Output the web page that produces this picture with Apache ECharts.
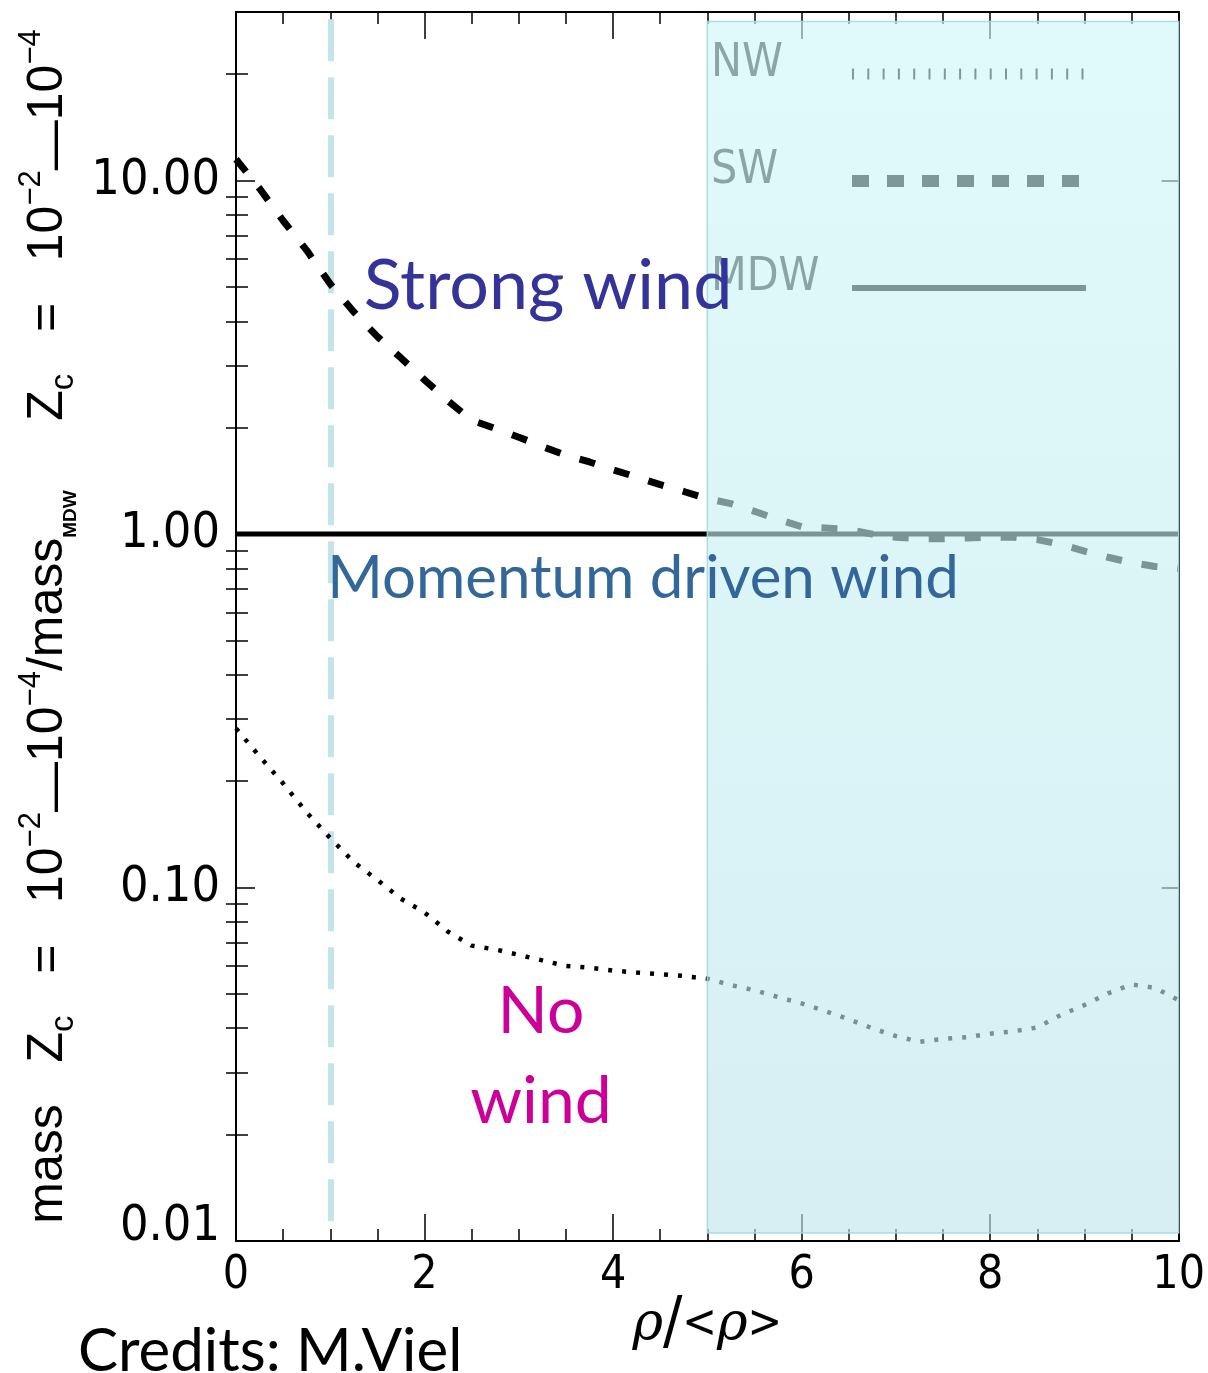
<!DOCTYPE html>
<html>
<head>
<meta charset="utf-8">
<script src="https://cdn.jsdelivr.net/npm/echarts@6/dist/echarts.min.js"></script>
<style>
html,body{margin:0;padding:0;background:#fff;}
#c{width:1208px;height:1373px;}
</style>
</head>
<body>
<div id="c"></div>
<script>
// ---------- data ----------
const rho = [0,0.25,0.5,0.75,1,1.25,1.5,1.75,2,2.25,2.5,2.75,3,3.25,3.5,3.75,4,4.25,4.5,4.75,5,
             5.25,5.5,5.75,6,6.25,6.5,6.75,7,7.25,7.5,7.75,8,8.25,8.5,8.75,9,9.25,9.5,9.75,10];
const nwValues = [0.282,0.235,0.197,0.163,0.138,0.118,0.105,0.093,0.085,0.075,0.0685,0.0668,0.0645,0.0622,0.06,0.0593,0.0582,0.0575,0.0569,0.0562,0.0552,
                  0.053,0.0512,0.049,0.047,0.0447,0.0424,0.04,0.038,0.0366,0.0373,0.0377,0.0386,0.0392,0.0402,0.0436,0.0465,0.0502,0.0532,0.052,0.048];
const swValues = [11.5,9.5,7.7,6.35,5.1,4.25,3.62,3.15,2.73,2.38,2.1,1.99,1.88,1.77,1.67,1.6,1.52,1.45,1.38,1.32,1.26,
                  1.22,1.16,1.1,1.05,1.04,1.03,1.0,0.98,0.97,0.97,0.975,0.98,0.98,0.965,0.935,0.895,0.86,0.83,0.81,0.8];
const mdwRho = [0, 10];
const mdwValues = [1.0, 1.0];

const seriesNames = ['NW', 'SW', 'MDW'];
const yMajorTicks = [0.01, 0.1, 1, 10];
const yTickLabels = ['0.01', '0.10', '1.00', '10.00'];
const yMinorTicks = [0.02,0.03,0.04,0.05,0.06,0.07,0.08,0.09,0.2,0.3,0.4,0.5,0.6,0.7,0.8,0.9,2,3,4,5,6,7,8,9,20];
const xTickLabels = ['0','2','4','6','8','10'];

// annotation extents (data space)
const windZoneRho = [5, 10];
const windZoneVal = [28.2, 0.01054];
const refRho = 1;
const refLineVal = [28.6, 0.0105];

// ---------- chart ----------
const TICK_FONT = '"Liberation Sans Narrow","DejaVu Sans Condensed","Liberation Sans",sans-serif';
const TITLE_FONT = '"Liberation Sans","DejaVu Sans",sans-serif';
const ANN_FONT = 'Lato,"Open Sans",sans-serif';

const pairs = (xs, ys) => xs.map((x, i) => [x, ys[i]]);
const chart = echarts.init(document.getElementById('c'), null, {renderer: 'canvas', width: 1208, height: 1373});

const axisLine = {show: true, onZero: false, lineStyle: {color: '#000', width: 2}};
const tickStyle = {color: '#000', width: 1.5};

function yLabel(v) {
  const i = yMajorTicks.findIndex(t => Math.abs(Math.log10(t) - Math.log10(v)) < 1e-6);
  if (i < 0) return '';
  return i === 0 ? '{low|' + yTickLabels[i] + '}' : '{n|' + yTickLabels[i] + '}';
}
function xLabel(v) {
  const i = Math.round(v / 2);
  return xTickLabels[i] !== undefined ? xTickLabels[i] : '';
}

const yLabelRich = {
  n: {fontSize: 50, fontFamily: TICK_FONT, color: '#000'},
  low: {fontSize: 50, fontFamily: TICK_FONT, color: '#000', padding: [0, 0, 28, 0]}
};

const yName = '{t|mass   Z}{sub|c}{t|   =   10}{sup|−2}{dash|—}{t|10}{sup|−4}{t|/mass}{sub2|MDW}{t|     Z}{sub|c}{t|   =   10}{sup|−2}{dash|—}{t|10}{sup|−4}';

const option = {
  animation: false,
  backgroundColor: '#fff',
  grid: {left: 236, top: 12, width: 945, height: 1229, containLabel: false},
  legend: {
    show: true,
    orient: 'vertical',
    left: 711,
    top: 41,
    align: 'right',
    padding: 0,
    itemWidth: 234,
    itemHeight: 12,
    itemGap: 41,
    selectedMode: false,
    formatter: name => '{t|' + name + '}',
    textStyle: {
      color: '#222',
      rich: {t: {width: 136, align: 'left', fontSize: 46, lineHeight: 56, fontFamily: TICK_FONT, color: '#222', padding: [0, 0, 20, 0]}}
    },
    data: [
      {name: seriesNames[0], lineStyle: {color: '#000', width: 11, type: [2, 13.3], cap: 'butt'}, itemStyle: {opacity: 0}},
      {name: seriesNames[1], lineStyle: {color: '#000', width: 12, type: [17, 18], cap: 'butt'}, itemStyle: {opacity: 0}},
      {name: seriesNames[2], lineStyle: {color: '#000', width: 6, type: 'solid'}, itemStyle: {opacity: 0}}
    ]
  },
  xAxis: [
    {
      type: 'value', min: 0, max: 10, interval: 2, position: 'bottom',
      axisLine: axisLine,
      axisTick: {show: true, inside: true, length: 27, lineStyle: tickStyle},
      minorTick: {show: true, splitNumber: 4, length: 12, lineStyle: tickStyle},
      splitLine: {show: false}, minorSplitLine: {show: false},
      axisLabel: {show: true, margin: 12, fontSize: 46, fontFamily: TICK_FONT, color: '#000', formatter: xLabel},
      name: '{i|ρ}{s|/}{a|<}{i|ρ}{a|>}',
      nameLocation: 'middle',
      nameGap: 52,
      nameMoveOverlap: false,
      nameTextStyle: {
        color: '#000', fontSize: 48, fontFamily: TITLE_FONT,
        rich: {
          i: {fontSize: 52, fontStyle: 'italic', fontFamily: '"DejaVu Serif",serif', color: '#000'},
          s: {fontSize: 64, fontFamily: '"DejaVu Sans Condensed","Liberation Sans",sans-serif', color: '#000'},
          a: {fontSize: 46, fontFamily: '"DejaVu Sans Condensed","Liberation Sans",sans-serif', color: '#000'}
        }
      }
    },
    {
      type: 'value', min: 0, max: 10, interval: 2, position: 'top',
      axisLine: axisLine,
      axisTick: {show: true, inside: true, length: 27, lineStyle: tickStyle},
      minorTick: {show: true, splitNumber: 4, length: 12, lineStyle: tickStyle},
      splitLine: {show: false}, axisLabel: {show: false}
    }
  ],
  yAxis: [
    {
      type: 'log', logBase: 10, min: 0.01, max: 30, position: 'left',
      axisLine: axisLine,
      axisTick: {show: true, inside: true, length: 19, lineStyle: tickStyle, customValues: yMajorTicks},
      minorTick: {show: false},
      splitLine: {show: false},
      axisLabel: {show: true, margin: 16, customValues: yMajorTicks, formatter: yLabel, rich: yLabelRich,
                  fontSize: 50, fontFamily: TICK_FONT, color: '#000'},
      name: yName,
      nameLocation: 'middle',
      nameRotate: 90,
      nameGap: 146,
      nameTextStyle: {
        color: '#000', fontSize: 50, fontFamily: TITLE_FONT,
        rich: {
          t: {fontSize: 50, lineHeight: 64, fontFamily: TITLE_FONT, color: '#000'},
          sup: {fontSize: 31, lineHeight: 44, verticalAlign: 'top', fontFamily: TITLE_FONT, color: '#000'},
          sub: {fontSize: 33, lineHeight: 32, verticalAlign: 'bottom', fontFamily: TITLE_FONT, color: '#000'},
          sub2: {fontSize: 19, lineHeight: 24, verticalAlign: 'bottom', fontWeight: 'bold', fontFamily: TITLE_FONT, color: '#000'},
          dash: {fontSize: 50, lineHeight: 22, verticalAlign: 'bottom', fontFamily: TITLE_FONT, color: '#000'}
        }
      }
    },
    {
      type: 'log', logBase: 10, min: 0.01, max: 30, position: 'left',
      axisLine: {show: false},
      axisTick: {show: true, inside: true, length: 12, lineStyle: tickStyle, customValues: yMinorTicks},
      splitLine: {show: false}, axisLabel: {show: false}
    },
    {
      type: 'log', logBase: 10, min: 0.01, max: 30, position: 'right',
      axisLine: axisLine,
      axisTick: {show: true, inside: true, length: 17, lineStyle: tickStyle, customValues: yMajorTicks},
      splitLine: {show: false}, axisLabel: {show: false}
    },
    {
      type: 'log', logBase: 10, min: 0.01, max: 30, position: 'right',
      axisLine: {show: false},
      axisTick: {show: true, inside: true, length: 10, lineStyle: tickStyle, customValues: yMinorTicks},
      splitLine: {show: false}, axisLabel: {show: false}
    }
  ],
  series: [
    {
      name: seriesNames[0], type: 'line', xAxisIndex: 0, yAxisIndex: 0, z: 2,
      data: pairs(rho, nwValues), symbol: 'none', showSymbol: false,
      lineStyle: {color: '#000', width: 4.5, type: [4, 10], cap: 'butt'}
    },
    {
      name: seriesNames[1], type: 'line', xAxisIndex: 0, yAxisIndex: 0, z: 2,
      data: pairs(rho, swValues), symbol: 'none', showSymbol: false,
      lineStyle: {color: '#000', width: 7, type: [16, 20], cap: 'butt'}
    },
    {
      name: seriesNames[2], type: 'line', xAxisIndex: 0, yAxisIndex: 0, z: 2,
      data: pairs(mdwRho, mdwValues), symbol: 'none', showSymbol: false,
      lineStyle: {color: '#000', width: 5, type: 'solid'}
    },
    {
      name: 'refLine', type: 'line', xAxisIndex: 0, yAxisIndex: 0, z: 1, data: [],
      markLine: {
        z: 1, silent: true, symbol: ['none', 'none'], label: {show: false},
        lineStyle: {color: '#c3e5e9', width: 6, type: [42, 16], cap: 'butt'},
        emphasis: {disabled: true},
        data: [[{coord: [refRho, refLineVal[0]]}, {coord: [refRho, refLineVal[1]]}]]
      }
    },
    {
      name: 'windZone', type: 'line', xAxisIndex: 0, yAxisIndex: 0, z: 10, data: [],
      markArea: {
        z: 10, silent: true,
        itemStyle: {
          color: {type: 'linear', x: 0, y: 0, x2: 0, y2: 1,
                  colorStops: [{offset: 0, color: 'rgba(205,247,250,0.62)'}, {offset: 1, color: 'rgba(190,229,234,0.62)'}]},
          borderColor: 'rgba(160,218,225,0.9)', borderWidth: 1.5
        },
        emphasis: {disabled: true},
        data: [[{coord: [windZoneRho[0], windZoneVal[0]]}, {coord: [windZoneRho[1], windZoneVal[1]]}]]
      }
    }
  ],
  graphic: [
    {type: 'text', z: 100, silent: true,
     style: {text: 'Strong wind', x: 548, y: 286, align: 'center', verticalAlign: 'middle',
             font: '70px ' + ANN_FONT, fill: '#333399'}},
    {type: 'text', z: 100, silent: true,
     style: {text: 'Momentum driven wind', x: 643, y: 579, align: 'center', verticalAlign: 'middle',
             font: '60px ' + ANN_FONT, fill: '#336699'}},
    {type: 'text', z: 100, silent: true,
     style: {text: 'No', x: 541, y: 1012, align: 'center', verticalAlign: 'middle',
             font: '66px ' + ANN_FONT, fill: '#cc0099'}},
    {type: 'text', z: 100, silent: true,
     style: {text: 'wind', x: 541, y: 1102, align: 'center', verticalAlign: 'middle',
             font: '66px ' + ANN_FONT, fill: '#cc0099'}},
    {type: 'text', z: 100, silent: true,
     style: {text: 'Credits: M.Viel', x: 78, y: 1352, align: 'left', verticalAlign: 'middle',
             font: '60px ' + ANN_FONT, fill: '#000'}}
  ]
};
chart.setOption(option);
</script>
</body>
</html>
